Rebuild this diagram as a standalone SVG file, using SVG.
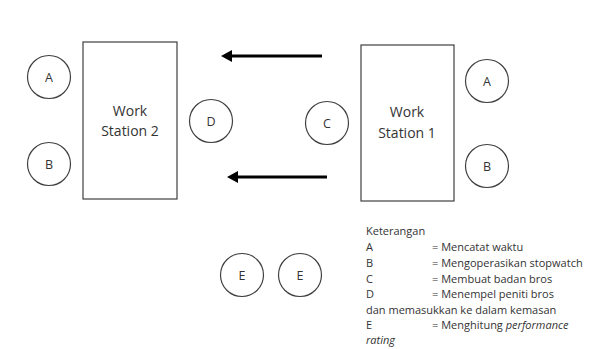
<svg xmlns="http://www.w3.org/2000/svg" width="608" height="349" viewBox="0 0 608 349">
<defs>
<style>
.box{fill:#fff;stroke:#404040;stroke-width:1.2}
.c{fill:#fff;stroke:#404040;stroke-width:1.2}
.t{font-family:"Open Sans","Liberation Sans",sans-serif;font-size:14px;fill:#333;text-anchor:middle}
.ct{font-family:"Open Sans","Liberation Sans",sans-serif;font-size:12.5px;fill:#333;text-anchor:middle}
.lg{font-family:"Open Sans","Liberation Sans",sans-serif;font-size:11px;fill:#333}
.arr{stroke:#000;stroke-width:3;fill:none}
</style>
</defs>
<rect width="608" height="349" fill="#fff"/>
<g id="connectors">
<line class="arr" x1="322" y1="56" x2="230" y2="56"/>
<path d="M221,56 L232,50 L232,62 Z" fill="#000"/>
<line class="arr" x1="327" y1="177" x2="236" y2="177"/>
<path d="M227,177 L238,171 L238,183 Z" fill="#000"/>
</g>
<g id="ws2"><rect class="box" x="83" y="42" width="94" height="157"/><text class="t" x="130" y="116">Work</text><text class="t" x="130" y="136">Station 2</text></g>
<g id="ws1"><rect class="box" x="361" y="45" width="93" height="156"/><text class="t" x="407" y="117">Work</text><text class="t" x="407" y="138">Station 1</text></g>
<g id="a-left"><circle class="c" cx="49" cy="77" r="21.5"/><text class="ct" x="49" y="81.5">A</text></g>
<g id="b-left"><circle class="c" cx="49" cy="164" r="21.5"/><text class="ct" x="49" y="168.5">B</text></g>
<g id="d"><circle class="c" cx="211" cy="121" r="21.5"/><text class="ct" x="211" y="125.5">D</text></g>
<g id="c"><circle class="c" cx="327" cy="123" r="21.5"/><text class="ct" x="327" y="127.5">C</text></g>
<g id="a-right"><circle class="c" cx="487" cy="81" r="21.5"/><text class="ct" x="487" y="85.5">A</text></g>
<g id="b-right"><circle class="c" cx="487" cy="166" r="21.5"/><text class="ct" x="487" y="170.5">B</text></g>
<g id="e1"><circle class="c" cx="242" cy="275" r="21.5"/><text class="ct" x="242" y="279.5">E</text></g>
<g id="e2"><circle class="c" cx="300" cy="275" r="21.5"/><text class="ct" x="300" y="279.5">E</text></g>
<g id="legend">
<text class="lg" x="366" y="235">Keterangan</text>
<text class="lg" x="366" y="251">A</text><text class="lg" x="432" y="251">= Mencatat waktu</text>
<text class="lg" x="366" y="267">B</text><text class="lg" x="432" y="267">= Mengoperasikan stopwatch</text>
<text class="lg" x="366" y="283">C</text><text class="lg" x="432" y="283">= Membuat badan bros</text>
<text class="lg" x="366" y="298">D</text><text class="lg" x="432" y="298">= Menempel peniti bros</text>
<text class="lg" x="366" y="314">dan memasukkan ke dalam kemasan</text>
<text class="lg" x="366" y="329">E</text><text class="lg" x="432" y="329">= Menghitung <tspan font-style="italic">performance</tspan></text>
<text class="lg" x="366" y="344" font-style="italic">rating</text>
</g>
</svg>
